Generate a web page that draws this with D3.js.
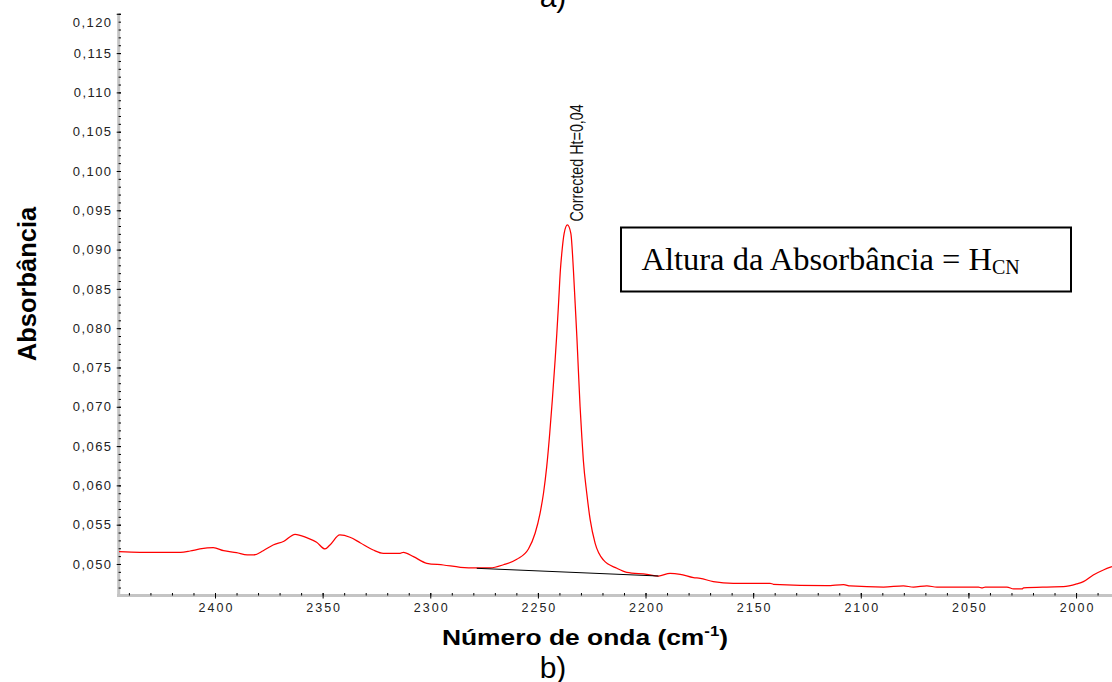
<!DOCTYPE html>
<html>
<head>
<meta charset="utf-8">
<script src="https://cdn.jsdelivr.net/npm/d3@7"></script>
<style>
  html, body { margin: 0; padding: 0; background: #fff; }
  svg { display: block; }
</style>
</head>
<body>
<svg id="chart" width="1112" height="682"></svg>
<script>
// Wavenumber (cm-1) and absorbance of the spectrum trace
const wavenumber = [2444.6, 2434.9, 2422.4, 2416, 2411.6, 2407, 2400.8, 2396, 2390, 2385, 2382, 2377.6, 2373, 2368, 2362.8, 2357.4, 2352.8, 2348.9, 2346.6, 2342, 2337.3, 2332.6, 2326.5, 2321.8, 2314, 2312.5, 2307.8, 2301.6, 2293.9, 2286, 2278.4, 2272.2, 2266.0, 2259.8, 2254.4, 2251.3, 2249.0, 2247.4, 2245.9, 2244.5, 2243.3, 2242.0, 2241.2, 2240.4, 2239.55, 2238.9, 2237.8, 2236.3, 2234.7, 2233.5, 2232.7, 2231.9, 2231.2, 2230.4, 2229.6, 2228.9, 2227.3, 2225.7, 2223.4, 2219.6, 2213.3, 2208.7, 2199.4, 2194.0, 2188.6, 2183.9, 2177.7, 2174.6, 2168.5, 2159.2, 2142.1, 2140.6, 2115.8, 2108.0, 2104.9, 2089.4, 2080.2, 2075.5, 2069.3, 2064.6, 2045.3, 2043.7, 2042.2, 2032.1, 2029.0, 2025.1, 2024.4, 2013.6, 2005.9, 1999.7, 1996.6, 1992.0, 1987.3, 1983.3];
const absorbance = [0.05156, 0.05149, 0.05149, 0.05149, 0.05165, 0.05191, 0.05207, 0.05169, 0.05144, 0.05115, 0.05115, 0.05169, 0.05242, 0.05289, 0.05378, 0.05335, 0.05276, 0.05191, 0.05242, 0.05369, 0.05340, 0.05271, 0.05178, 0.05136, 0.05136, 0.05149, 0.05093, 0.05009, 0.04987, 0.04958, 0.04949, 0.04950, 0.04990, 0.05060, 0.05190, 0.05391, 0.05645, 0.05900, 0.06238, 0.06663, 0.07087, 0.07595, 0.07935, 0.08317, 0.08740, 0.08953, 0.09207, 0.09313, 0.09207, 0.08740, 0.08317, 0.07892, 0.07468, 0.07001, 0.06620, 0.06323, 0.05900, 0.05560, 0.05263, 0.05051, 0.04945, 0.04894, 0.04869, 0.04847, 0.04881, 0.04869, 0.04826, 0.04818, 0.04775, 0.04754, 0.04754, 0.04742, 0.04724, 0.04737, 0.04720, 0.04707, 0.04720, 0.04707, 0.04720, 0.04707, 0.04707, 0.04695, 0.04707, 0.04707, 0.04682, 0.04682, 0.04695, 0.04707, 0.04711, 0.04746, 0.04775, 0.04860, 0.04924, 0.04966];

// Baseline used for the corrected peak height
const baselineWavenumber = [2278.4, 2194.0];
const baselineAbsorbance = [0.04945, 0.04847];

// Peak annotation
const peakWavenumber = 2236.3;
const peakAbsorbance = 0.09313;
const peakLabel = "Corrected Ht=0,04";

// Axis ticks
const xMajorTicks = [2400, 2350, 2300, 2250, 2200, 2150, 2100, 2050, 2000];
const xMinorTicks = d3.range(2440, 1980, -10);
const yMajorTicks = [0.050, 0.055, 0.060, 0.065, 0.070, 0.075, 0.080, 0.085, 0.090, 0.095, 0.100, 0.105, 0.110, 0.115, 0.120];
const yMinorTicks = d3.range(47, 121).map(d => d / 1000);

const xTitle = "Número de onda (cm";
const xTitleSup = "-1";
const yTitle = "Absorbância";
const boxText = "Altura da Absorbância = H";
const boxSub = "CN";

const svg = d3.select("#chart");

const x = d3.scaleLinear().domain([2444.6, 1983.3]).range([119, 1112]);
const y = d3.scaleLinear().domain([0.04618, 0.1200]).range([594, 13.8]);

const fmt = d => d3.format(".3f")(d).replace(".", ",");

// Gray axis bands
svg.append("line")
  .attr("x1", 118.7).attr("x2", 118.7).attr("y1", 13.3).attr("y2", 597)
  .attr("stroke", "#c4c4c4").attr("stroke-width", 3);
svg.append("line")
  .attr("x1", 117).attr("x2", 1112).attr("y1", 595.5).attr("y2", 595.5)
  .attr("stroke", "#c4c4c4").attr("stroke-width", 3);

// Y axis: minor and major ticks
const yMinor = svg.append("g").attr("transform", "translate(121,0)")
  .call(d3.axisLeft(y).tickValues(yMinorTicks).tickSize(2.4).tickFormat(""));
const yMajor = svg.append("g").attr("transform", "translate(121,0)")
  .call(d3.axisLeft(y).tickValues(yMajorTicks).tickSize(4.3).tickFormat(fmt));
[yMinor, yMajor].forEach(g => {
  g.select(".domain").remove();
  g.selectAll(".tick line").attr("stroke", "#000").attr("stroke-width", 1);
});
yMajor.selectAll(".tick text")
  .attr("x", -8.6)
  .attr("fill", "#222")
  .style("font-family", "Arial, 'Liberation Sans', sans-serif")
  .style("font-size", "13px")
  .style("letter-spacing", "1.4px")
  .attr("dy", d => d === 0.120 ? "0.95em" : "0.32em");

// X axis: minor and major ticks
const xMinor = svg.append("g").attr("transform", "translate(0,593)")
  .call(d3.axisBottom(x).tickValues(xMinorTicks).tickSize(2.5).tickFormat(""));
const xMajor = svg.append("g").attr("transform", "translate(0,593)")
  .call(d3.axisBottom(x).tickValues(xMajorTicks).tickSize(5.5).tickFormat(d3.format("d")));
[xMinor, xMajor].forEach(g => {
  g.select(".domain").remove();
  g.selectAll(".tick line").attr("stroke", "#000").attr("stroke-width", 1);
});
xMajor.selectAll(".tick text")
  .attr("y", 18.5).attr("dy", 0).attr("dx", 1)
  .attr("fill", "#222")
  .style("font-family", "Arial, 'Liberation Sans', sans-serif")
  .style("font-size", "12.5px")
  .style("letter-spacing", "2px");

// Spectrum trace
const points = wavenumber.map((w, i) => [w, absorbance[i]]);
svg.append("path")
  .datum(points)
  .attr("fill", "none")
  .attr("stroke", "#ff0000")
  .attr("stroke-width", 1.25)
  .attr("stroke-linejoin", "round")
  .attr("d", d3.line().x(d => x(d[0])).y(d => y(d[1])).curve(d3.curveMonotoneX));

// Baseline under the peak
const base = baselineWavenumber.map((w, i) => [w, baselineAbsorbance[i]]);
svg.append("path")
  .datum(base)
  .attr("fill", "none")
  .attr("stroke", "#000")
  .attr("stroke-width", 1)
  .attr("d", d3.line().x(d => x(d[0])).y(d => y(d[1])));

// Corrected height label beside the peak
svg.append("text")
  .attr("transform", `translate(${x(peakWavenumber) + 16},${y(peakAbsorbance) - 3.5}) scale(1.3,1) rotate(-90)`)
  .attr("fill", "#111")
  .style("font-family", "Arial, 'Liberation Sans', sans-serif")
  .style("font-size", "14.3px")
  .text(peakLabel);

// Axis titles
svg.append("text")
  .attr("transform", "translate(585,645) scale(1.2,1)")
  .attr("text-anchor", "middle")
  .attr("fill", "#000")
  .style("font-family", "Arial, 'Liberation Sans', sans-serif")
  .style("font-size", "22px")
  .style("font-weight", "bold")
  .call(t => {
    t.append("tspan").text(xTitle);
    t.append("tspan").attr("dy", -9).style("font-size", "14px").text(xTitleSup);
    t.append("tspan").attr("dy", 9).text(")");
  });

svg.append("text")
  .attr("transform", "translate(36,284) rotate(-90)")
  .attr("text-anchor", "middle")
  .attr("fill", "#000")
  .style("font-family", "Arial, 'Liberation Sans', sans-serif")
  .style("font-size", "25.5px")
  .style("font-weight", "bold")
  .text(yTitle);

// Panel letters
svg.append("text")
  .attr("x", 553).attr("y", 7)
  .attr("text-anchor", "middle")
  .style("font-family", "Arial, 'Liberation Sans', sans-serif")
  .style("font-size", "30px")
  .text("a)");
svg.append("text")
  .attr("x", 553).attr("y", 677.5)
  .attr("text-anchor", "middle")
  .style("font-family", "Arial, 'Liberation Sans', sans-serif")
  .style("font-size", "30px")
  .text("b)");

// Boxed note
svg.append("rect")
  .attr("x", 621).attr("y", 227.5).attr("width", 450).attr("height", 64)
  .attr("fill", "#fff").attr("stroke", "#000").attr("stroke-width", 2);
svg.append("text")
  .attr("x", 641.5).attr("y", 270)
  .attr("fill", "#000")
  .style("font-family", "'Liberation Serif', 'Times New Roman', serif")
  .style("font-size", "32.5px")
  .call(t => {
    t.append("tspan").text(boxText);
    t.append("tspan").attr("dy", 4).style("font-size", "20px").text(boxSub);
  });
</script>
</body>
</html>
